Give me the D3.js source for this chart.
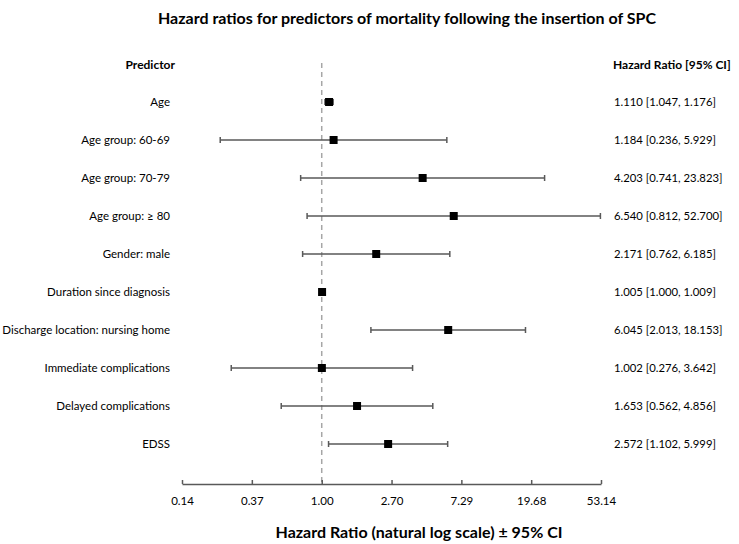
<!DOCTYPE html>
<html>
<head>
<meta charset="utf-8">
<script src="https://cdn.jsdelivr.net/npm/d3@7"></script>
<style>
  body { margin: 0; background: #fff; }
  text { font-family: Lato, "Open Sans", sans-serif; fill: #000; }
</style>
</head>
<body>
<svg id="chart" width="739" height="544"></svg>
<script>
// data
const predictors = [
  "Age", "Age group: 60-69", "Age group: 70-79", "Age group: \u2265 80",
  "Gender: male", "Duration since diagnosis", "Discharge location: nursing home",
  "Immediate complications", "Delayed complications", "EDSS"
];
const hr    = [1.110, 1.184, 4.203, 6.540, 2.171, 1.005, 6.045, 1.002, 1.653, 2.572];
const lower = [1.047, 0.236, 0.741, 0.812, 0.762, 1.000, 2.013, 0.276, 0.562, 1.102];
const upper = [1.176, 5.929, 23.823, 52.700, 6.185, 1.009, 18.153, 3.642, 4.856, 5.999];
// axis ticks are powers of 2.7 in the original
const tickValues = [0.137, 0.37, 1.00, 2.70, 7.29, 19.683, 53.144];

const fmt = d3.format(".3f");
const rows = predictors.map((p, i) => ({ name: p, hr: hr[i], lo: lower[i], hi: upper[i] }));

const svg = d3.select("#chart");

const x = d3.scaleLog().base(2.7).domain([tickValues[0], tickValues[6]]).range([182, 601]);
const y = d3.scalePoint().domain(predictors).range([102, 444]);

// title
svg.append("text")
  .attr("x", 407).attr("y", 24)
  .attr("text-anchor", "middle")
  .style("font-weight", "bold").style("font-size", "16px")
  .text("Hazard ratios for predictors of mortality following the insertion of SPC");

// column headers
svg.append("text")
  .attr("x", 175).attr("y", 69)
  .attr("text-anchor", "end")
  .style("font-weight", "bold").style("font-size", "12px")
  .text("Predictor");
svg.append("text")
  .attr("x", 613).attr("y", 69)
  .style("font-weight", "bold").style("font-size", "12px")
  .text("Hazard Ratio [95% CI]");

// reference line at HR = 1
svg.append("line")
  .attr("x1", x(1)).attr("x2", x(1))
  .attr("y1", 63).attr("y2", 484)
  .attr("stroke", "#a6a6a6").attr("stroke-width", 1.5)
  .attr("stroke-dasharray", "5,4");

const g = svg.append("g");

const row = g.selectAll(".row")
  .data(rows)
  .enter().append("g")
    .attr("class", "row")
    .attr("transform", d => "translate(0," + y(d.name) + ")");

row.append("text")
  .attr("x", 170).attr("dy", "0.35em")
  .attr("text-anchor", "end")
  .style("font-size", "11.5px")
  .text(d => d.name);

row.append("line")
  .attr("x1", d => x(d.lo)).attr("x2", d => x(d.hi))
  .attr("stroke", "#595959").attr("stroke-width", 1.5);

row.selectAll(".cap")
  .data(d => [d.lo, d.hi])
  .enter().append("line")
    .attr("class", "cap")
    .attr("x1", v => x(v)).attr("x2", v => x(v))
    .attr("y1", -3).attr("y2", 3)
    .attr("stroke", "#595959").attr("stroke-width", 1.5);

row.append("rect")
  .attr("x", d => x(d.hr) - 4).attr("y", -4)
  .attr("width", 8).attr("height", 8)
  .attr("fill", "#000");

row.append("text")
  .attr("x", 614).attr("dy", "0.35em")
  .style("font-size", "11.3px")
  .text(d => fmt(d.hr) + " [" + fmt(d.lo) + ", " + fmt(d.hi) + "]");

// x axis
const axis = svg.append("g")
  .attr("transform", "translate(0,484)")
  .call(d3.axisTop(x).tickValues(tickValues).tickSize(4).tickSizeOuter(0).tickFormat(d3.format(".2f")));
axis.select(".domain").attr("stroke", "#595959").attr("stroke-width", 1.5);
axis.selectAll(".tick line").attr("stroke", "#595959").attr("stroke-width", 1.5);
axis.selectAll(".tick text")
  .attr("y", 17).attr("dy", "0.35em")
  .style("font-size", "11.5px")
  .style("font-family", "Lato, 'Open Sans', sans-serif")
  .attr("fill", "#000");

svg.append("text")
  .attr("x", 419).attr("y", 538)
  .attr("text-anchor", "middle")
  .style("font-weight", "bold").style("font-size", "16px")
  .text("Hazard Ratio (natural log scale) \u00b1 95% CI");
</script>
</body>
</html>
